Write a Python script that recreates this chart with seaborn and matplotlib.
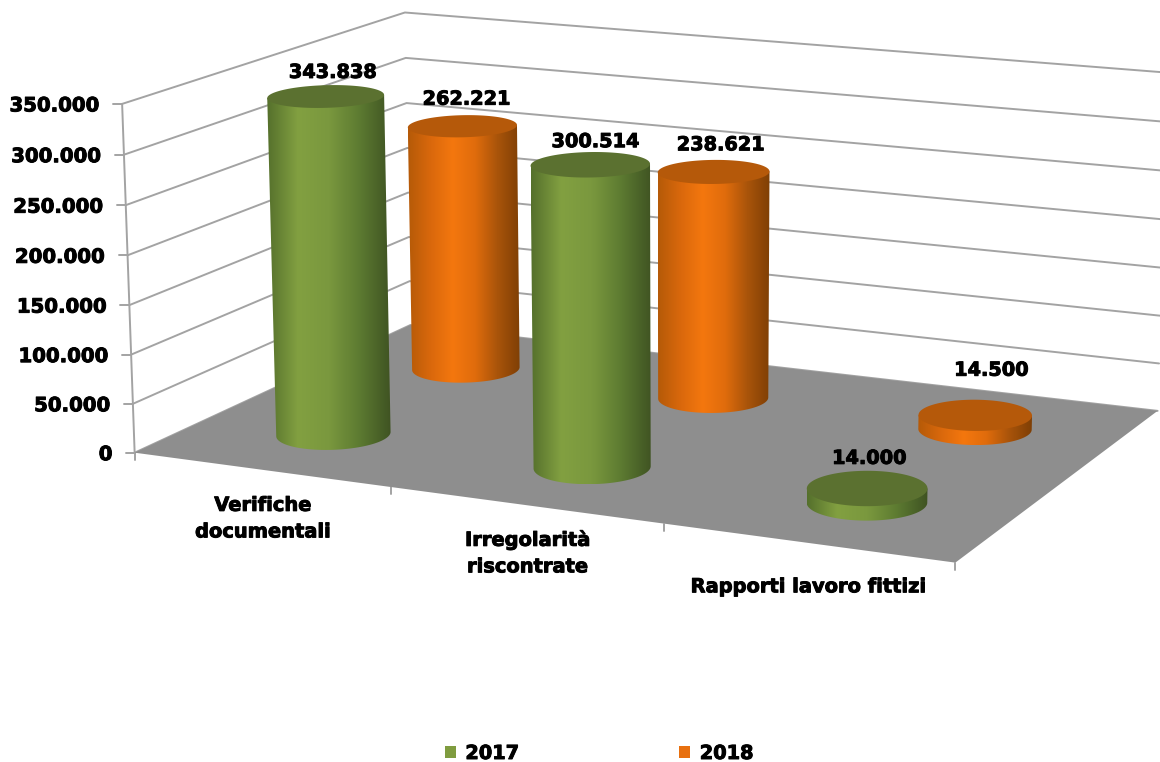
import numpy as np
import seaborn as sns
import matplotlib
matplotlib.use("Agg")
import matplotlib.pyplot as plt
import matplotlib.patheffects as pe
from matplotlib.patches import Patch, Polygon

# Data

categories = ["Verifiche\ndocumentali", "Irregolarità\nriscontrate", "Rapporti lavoro fittizi"]
years = ["2017", "2018"]
values_2017 = [343838, 300514, 14000]
values_2018 = [262221, 238621, 14500]
y_ticks = [0, 50000, 100000, 150000, 200000, 250000, 300000, 350000]
y_max = 350000

# Camera: floor and wall corners of the 3D box, as (category, depth, height) -> pixel

box_world = [(0, 0, 0), (1, 0, 0), (2, 0, 0), (3, 0, 0), (3, 1, 0), (0, 1, 0),
             (0, 0, 1), (0, 1, 1), (3, 1, 1)]
box_pixel = [(135, 452), (392, 488), (664, 525), (955, 562), (1158, 410), (410, 325),
             (122, 103), (405, 13), (1168, 73)]

rows = []
rhs = []
for (a, b, c), (px, py) in zip(box_world, box_pixel):
    rows.append([a, b, c, 1, 0, 0, 0, 0, -px * a, -px * b, -px * c])
    rows.append([0, 0, 0, 0, a, b, c, 1, -py * a, -py * b, -py * c])
    rhs += [px, py]
cam = np.linalg.lstsq(np.array(rows, float), np.array(rhs, float), rcond=None)[0]
cam = np.append(cam, 1).reshape(3, 4)


def project(u, d, v):
    u, d, v = np.broadcast_arrays(u, d, np.asarray(v, float) / y_max)
    w = np.stack([u, d, v, np.ones_like(u)])
    p = cam @ w
    return p[0] / p[2], p[1] / p[2]


# Style

sns.set_theme(style="white")
plt.rcParams["font.family"] = ["DejaVu Sans"]
green_cmap = sns.blend_palette(["#55702c", "#82a041", "#7a983e", "#5c7a31", "#3f5322"], as_cmap=True)
orange_cmap = sns.blend_palette(["#b55a08", "#d9680c", "#f4770e", "#e06c0c", "#a9540a", "#7f3f05"], as_cmap=True)
green_top = "#5b7130"
orange_top = "#b5590a"
grid_color = "#a3a3a3"
floor_color = "#8e8e8e"
label_px = 13.9
depths = [0.25, 0.75]
radius_u, radius_d = 0.195, 0.105
heavy = [pe.withStroke(linewidth=0.7, foreground="black")]

fig = plt.figure(figsize=(11.6, 7.62), dpi=100)
ax = fig.add_axes([0, 0, 1, 1])

# Walls

for t in y_ticks:
    x, y = project([0, 0, 3], [0, 1, 1], [t, t, t])
    sns.lineplot(x=x, y=y, ax=ax, color=grid_color, lw=1.4, sort=False, estimator=None, zorder=1)
    x0, y0 = project(0, 0, t)
    ax.plot([x0 - 9, x0], [y0, y0], color=grid_color, lw=1.4, zorder=1)
    ax.text(x0 - 22, y0 + 2, f"{t:,}".replace(",", "."), ha="right", va="center",
            fontsize=14.2, fontweight="bold", color="black", path_effects=heavy)

x, y = project([0, 0], [0, 0], [0, y_max])
ax.plot(x, y, color=grid_color, lw=1.4, zorder=1)

# Floor

x, y = project([0, 3, 3, 0], [0, 0, 1, 1], [0, 0, 0, 0])
ax.add_patch(Polygon(np.column_stack([x, y]), closed=True, fc=floor_color, ec="none", zorder=2))
for u in range(4):
    x0, y0 = project(u, 0, 0)
    ax.plot([x0, x0], [y0, y0 + 7], color=grid_color, lw=1.4, zorder=1)


# Cylinders

def draw_cylinder(u, d, value, cmap, top_color, z):
    t = np.linspace(0, 2 * np.pi, 241)[:-1]
    cu = u + radius_u * np.cos(t)
    cd = d + radius_d * np.sin(t)
    bx, by = project(cu, cd, 0)
    tx, ty = project(cu, cd, value)
    # lower half of the base, then straight up to the top rim
    i0, i1 = int(np.argmin(bx)), int(np.argmax(bx))
    order = np.roll(np.arange(len(t)), -i0)
    k = int(np.where(order == i1)[0][0])
    arc_a, arc_b = order[: k + 1], order[k:]
    lower = arc_a if by[arc_a].mean() > by[arc_b].mean() else arc_b[::-1]
    side = np.vstack([
        np.column_stack([bx[lower], by[lower]]),
        [[tx[np.argmax(tx)], ty[np.argmax(tx)]], [tx[np.argmin(tx)], ty[np.argmin(tx)]]],
    ])
    clip = Polygon(side, closed=True, transform=ax.transData)
    grad = np.linspace(0, 1, 256).reshape(1, -1)
    im = ax.imshow(grad, cmap=cmap, aspect="auto", zorder=z,
                   extent=[side[:, 0].min(), side[:, 0].max(), side[:, 1].max(), side[:, 1].min()])
    im.set_clip_path(clip)
    ax.add_patch(Polygon(np.column_stack([tx, ty]), closed=True, fc=top_color, ec="none", zorder=z + 0.1))
    return tx.mean(), ty.mean()


# back row first so the front row sits on top
tops = {}
for n, (vals, cmap, top) in enumerate([(values_2018, orange_cmap, orange_top), (values_2017, green_cmap, green_top)]):
    depth = depths[1 - n]
    for i, v in enumerate(vals):
        tops[(1 - n, i)] = draw_cylinder(i + 0.5, depth, v, cmap, top, 3 + n + i * 0.2)

# Value labels

label_dx = [[7, 5, 2], [4, 7, 16]]
label_dy = [[-24, -23, -30], [-27, -27, -45]]
for s, vals in enumerate([values_2017, values_2018]):
    for i, v in enumerate(vals):
        cx, cy = tops[(s, i)]
        ax.text(cx + label_dx[s][i], cy + label_dy[s][i], f"{v:,}".replace(",", "."), ha="center", va="center",
                fontsize=label_px, fontweight="bold", color="black", zorder=10, path_effects=heavy)

# Category labels

cat_dx = [2, 2, 1]
cat_dy = [49, 48, 44]
for i, c in enumerate(categories):
    x0, y0 = project(i + 0.5, 0, 0)
    ax.text(x0 + cat_dx[i], y0 + cat_dy[i], c, ha="center", va="center", fontsize=14,
            fontweight="bold", color="black", linespacing=1.5, path_effects=heavy)

# Legend

handles = [Patch(fc="#7f9c3f", ec="none", label=years[0]), Patch(fc="#e8700f", ec="none", label=years[1])]
legend = ax.legend(handles=handles, ncol=2, loc="center", bbox_to_anchor=(599 / 1160, 1 - 753.5 / 762), frameon=False,
                   prop={"size": label_px, "weight": "bold"}, handlelength=0.57, handleheight=0.57,
                   handletextpad=0.5, columnspacing=8.3, borderpad=0, labelcolor="black")
for text in legend.get_texts():
    text.set_path_effects(heavy)

ax.set_xlim(0, 1160)
ax.set_ylim(762, 0)
ax.axis("off")

fig.savefig("out.png", dpi=100)
